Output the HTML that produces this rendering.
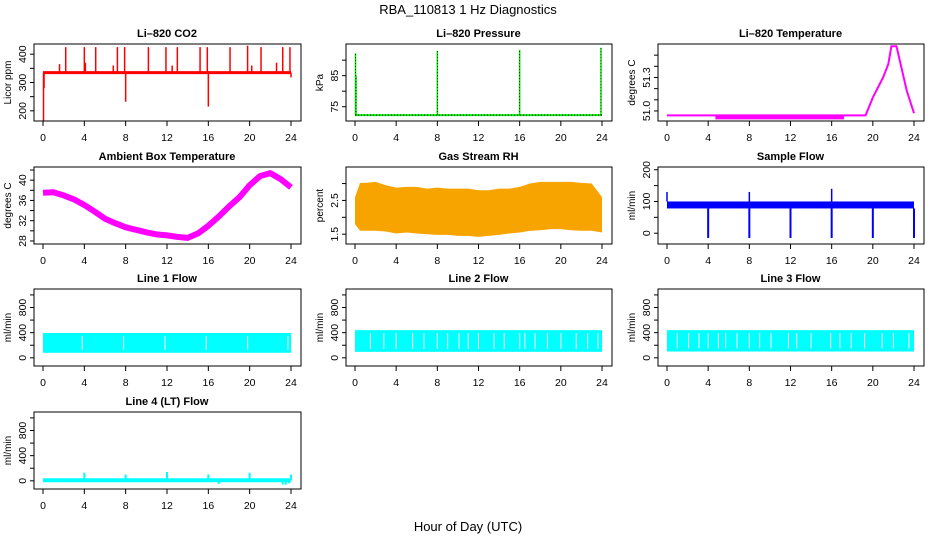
<!DOCTYPE html>
<html><head><meta charset="utf-8"><title>RBA_110813 1 Hz Diagnostics</title>
<style>
html,body{margin:0;padding:0;background:#fff;}
svg{display:block;font-family:"Liberation Sans",sans-serif;}
</style></head>
<body>
<svg id="chart" width="936" height="540" viewBox="0 0 936 540">
<text x="468" y="14" text-anchor="middle" font-size="13">RBA_110813  1 Hz Diagnostics</text>
<text x="468" y="531" text-anchor="middle" font-size="13">Hour of Day (UTC)</text>
</svg>
<script>
// ---- data ----
const xTicks=[0,4,8,12,16,20,24];
// CO2
const co2Base=335;
const co2SpikeHours=[0.05,0.1,1.6,2.2,4.0,4.1,5.1,6.8,7.2,7.9,8.0,10.2,11.9,12.5,13.0,15.2,15.9,16.0,18.1,19.8,20.2,21.1,22.6,23.2,23.9,24.0];
const co2SpikeValues=[165,280,365,425,425,370,425,360,425,425,232,425,425,360,425,425,425,215,425,430,360,425,370,425,425,318];
// Pressure
const presBase=72.3;
const presSpikeHours=[0.05,0.1,8.0,16.0,23.9];
const presSpikeValues=[92.2,85,93,93.3,94];
// Li-820 temperature
const tempHours=[0,19.3,20,21,21.5,21.8,22.3,22.7,23.3,24];
const tempValues=[50.96,50.96,51.12,51.3,51.42,51.58,51.58,51.42,51.18,50.98];
// Ambient box temperature
const ambHours=[0,1,2,3,4,5,6,7,8,9,10,11,12,13,14,15,16,17,18,19,20,21,22,23,24];
const ambValues=[37.5,37.6,37.0,36.2,35.1,33.8,32.4,31.5,30.7,30.2,29.7,29.3,29.1,28.8,28.6,29.5,31.0,32.8,34.8,36.6,39.0,40.8,41.4,40.2,38.6];
// Gas stream RH envelope
const rhHours=[0,0.5,1,2,3,4,5,6,7,8,9,10,11,12,13,14,15,16,17,18,19,20,21,22,23,24];
const rhUpper=[2.6,3.02,3.02,3.05,2.95,2.88,2.9,2.9,2.85,2.88,2.85,2.85,2.85,2.8,2.8,2.85,2.85,2.9,3.0,3.05,3.05,3.05,3.05,3.02,3.0,2.6];
const rhLower=[1.8,1.6,1.6,1.6,1.58,1.52,1.55,1.52,1.5,1.48,1.48,1.45,1.45,1.42,1.45,1.48,1.52,1.55,1.6,1.62,1.65,1.65,1.62,1.6,1.6,1.55];
// Sample flow
const sfLow=78, sfHigh=100;
const sfDipHours=[4,8,12,16,20,24];
const sfDipValues=[-15,-15,-15,-15,-15,-15];
const sfSpikeHours=[0,8,16];
const sfSpikeValues=[130,130,140];
// Line flows
const l1Low=80,l1High=395;
const l1Gaps=[3.8,7.8,11.8,15.8,19.8,23.7];
const l2Low=95,l2High=440;
const l2Gaps=[1.5,2.8,4.0,5.6,6.7,8.0,9.0,10.1,11.0,12.0,13.5,14.5,16.0,16.5,17.5,18.7,20.0,21.5,22.6,23.6];
const l3Low=100,l3High=440;
const l3Gaps=[1.0,2.1,3.1,4.0,5.0,5.7,6.8,8.0,9.0,10.1,11.8,12.6,14.0,15.9,16.8,17.9,19.2,20.9,22.0,23.5];
const l4Base=10;
const l4SpikeHours=[4,8,12,16,17,20,23.2,23.5,23.8,24];
const l4SpikeValues=[130,100,140,100,-50,130,-60,-60,-40,100];

// ---- layout ----
const NS="http://www.w3.org/2000/svg";
const svg=document.getElementById('chart');
const cols=[{x0:43,x1:291},{x0:355,x1:602},{x0:667,x1:914}];
const rows=[44,167,289,412];
const H=77;
function el(tag,attrs,parent){const e=document.createElementNS(NS,tag);for(const k in attrs)e.setAttribute(k,attrs[k]);(parent||svg).appendChild(e);return e;}

function panel(ci,ri,name,title,ylab,yMin,yMax,ticks,labels){
  const c=cols[ci],top=rows[ri],bot=top+H;
  const g=el('g',{});
  
  
  const sx=h=>c.x0+(c.x1-c.x0)*h/24;
  const sy=v=>bot-(v-yMin)/(yMax-yMin)*H;
  const plot=el('g',{},g);
  
  
  const t=el('text',{x:(c.x0+c.x1)/2,y:top-7,'text-anchor':'middle','font-size':'11','font-weight':'bold'},g);
  t.textContent=title;
  
  
  const bx=c.x0-9,bw=(c.x1+10)-bx;
  const box=el('rect',{x:bx,y:top,width:bw,height:H,fill:'none',stroke:'#000','stroke-width':1},g);
  
  
  const xa=el('g',{},g);
  
  
  xTicks.forEach(h=>{
    el('line',{x1:sx(h),x2:sx(h),y1:bot,y2:bot+5,stroke:'#000'},xa);
    const tl=el('text',{x:sx(h),y:bot+20,'text-anchor':'middle','font-size':'10.5'},xa);
    tl.textContent=h;
  });
  const ya=el('g',{},g);
  
  
  ticks.forEach((v,i)=>{
    el('line',{x1:bx,x2:bx-4,y1:sy(v),y2:sy(v),stroke:'#000'},ya);
    if(labels[i]){
      const tx=bx-8,ty=sy(v);
      const tl=el('text',{x:tx,y:ty,'text-anchor':'middle','font-size':'10.5',transform:`rotate(-90 ${tx} ${ty})`},ya);
      tl.textContent=labels[i];
    }
  });
  const lx=bx-23,ly=(top+bot)/2;
  const yl=el('text',{x:lx,y:ly,'text-anchor':'middle','font-size':'10',transform:`rotate(-90 ${lx} ${ly})`},g);
  yl.textContent=ylab;
  
  
  return {sx,sy,g:plot,top,bot};
}
function polyPts(hs,vs,sx,sy){return hs.map((h,i)=>sx(h).toFixed(1)+','+sy(vs[i]).toFixed(1)).join(' ');}

// CO2
{const p=panel(0,0,'co2','Li\u2013820 CO2','Licor ppm',164,436,[200,250,300,350,400],['200','','300','','400']);
 const b=el('line',{x1:p.sx(0),x2:p.sx(24),y1:p.sy(co2Base),y2:p.sy(co2Base),stroke:'#ff0000','stroke-width':3},p.g);
 
 co2SpikeHours.forEach((h,i)=>{const l=el('line',{x1:p.sx(h),x2:p.sx(h),y1:p.sy(co2Base),y2:p.sy(co2SpikeValues[i]),stroke:'#ff0000','stroke-width':1.5},p.g);
  });}
// Pressure
{const p=panel(1,0,'pressure','Li\u2013820 Pressure','kPa',70.4,95.2,[75,80,85,90],['75','','85','']);
 const b=el('line',{x1:p.sx(0),x2:p.sx(24),y1:p.sy(presBase),y2:p.sy(presBase),stroke:'#00ee00','stroke-width':2},p.g);
 
 el('line',{x1:p.sx(0),x2:p.sx(24),y1:p.sy(presBase),y2:p.sy(presBase),stroke:'#000','stroke-width':1,'stroke-dasharray':'1 2'},p.g);
 presSpikeHours.forEach((h,i)=>{const l=el('line',{x1:p.sx(h),x2:p.sx(h),y1:p.sy(presBase),y2:p.sy(presSpikeValues[i]),stroke:'#00ee00','stroke-width':1.5},p.g);
  
  el('line',{x1:p.sx(h),x2:p.sx(h),y1:p.sy(presBase),y2:p.sy(presSpikeValues[i]),stroke:'#000','stroke-width':0.8,'stroke-dasharray':'1 2'},p.g);});}
// Li temp
{const p=panel(2,0,'li820-temp','Li\u2013820 Temperature','degrees C',50.91,51.6,[51.0,51.1,51.2,51.3,51.4,51.5],['51.0','','','51.3','','']);
 const l=el('polyline',{points:polyPts(tempHours,tempValues,p.sx,p.sy),fill:'none',stroke:'#ff00ff','stroke-width':2},p.g);
 
 const bd=el('line',{x1:p.sx(4.7),x2:p.sx(17.2),y1:p.sy(tempValues[0])+2,y2:p.sy(tempValues[0])+2,stroke:'#ff00ff','stroke-width':4},p.g);
 }
// Ambient
{const p=panel(0,1,'ambient-temp','Ambient Box Temperature','degrees C',27.4,42.6,[28,30,32,34,36,38,40,42],['28','','32','','36','','40','']);
 const l=el('polyline',{points:polyPts(ambHours,ambValues,p.sx,p.sy),fill:'none',stroke:'#ff00ff','stroke-width':6,'stroke-linejoin':'round'},p.g);
 }
// RH
{const p=panel(1,1,'rh','Gas Stream RH','percent',1.21,3.49,[1.5,2.0,2.5,3.0],['1.5','','2.5','']);
 const pts=polyPts(rhHours,rhUpper,p.sx,p.sy)+' '+polyPts(rhHours.slice().reverse(),rhLower.slice().reverse(),p.sx,p.sy);
 const a=el('polygon',{points:pts,fill:'#f7a400'},p.g);
 }
// Sample flow
{const p=panel(2,1,'sample-flow','Sample Flow','ml/min',-34,208.6,[0,50,100,150,200],['0','','100','','200']);
 const r=el('rect',{x:p.sx(0),y:p.sy(sfHigh),width:p.sx(24)-p.sx(0),height:p.sy(sfLow)-p.sy(sfHigh),fill:'#0000ff'},p.g);
 
 sfDipHours.forEach((h,i)=>{const l=el('line',{x1:p.sx(h),x2:p.sx(h),y1:p.sy(sfLow),y2:p.sy(sfDipValues[i]),stroke:'#0000ff','stroke-width':2},p.g);
  });
 sfSpikeHours.forEach((h,i)=>{const l=el('line',{x1:p.sx(h),x2:p.sx(h),y1:p.sy(sfHigh),y2:p.sy(sfSpikeValues[i]),stroke:'#0000ff','stroke-width':1.5},p.g);
  });}
// Line flows
function flowPanel(ci,ri,name,title,lo,hi,gaps){
 const p=panel(ci,ri,name,title,'ml/min',-130,1094,[0,200,400,600,800,1000],['0','','400','','800','']);
 const r=el('rect',{x:p.sx(0),y:p.sy(hi),width:p.sx(24)-p.sx(0),height:p.sy(lo)-p.sy(hi),fill:'#00ffff'},p.g);
 
 gaps.forEach(h=>{const l=el('line',{x1:p.sx(h),x2:p.sx(h),y1:p.sy(hi)+3,y2:p.sy(lo)-3,stroke:'#fff','stroke-width':1},p.g);
  });
}
flowPanel(0,2,'line1-flow','Line 1 Flow',l1Low,l1High,l1Gaps);
flowPanel(1,2,'line2-flow','Line 2 Flow',l2Low,l2High,l2Gaps);
flowPanel(2,2,'line3-flow','Line 3 Flow',l3Low,l3High,l3Gaps);
{const p=panel(0,3,'line4-flow','Line 4 (LT) Flow','ml/min',-130,1094,[0,200,400,600,800,1000],['0','','400','','800','']);
 const b=el('line',{x1:p.sx(0),x2:p.sx(24),y1:p.sy(l4Base),y2:p.sy(l4Base),stroke:'#00ffff','stroke-width':4},p.g);
 
 l4SpikeHours.forEach((h,i)=>{const l=el('line',{x1:p.sx(h),x2:p.sx(h),y1:p.sy(l4Base),y2:p.sy(l4SpikeValues[i]),stroke:'#00ffff','stroke-width':2},p.g);
  });}
</script>
</body></html>
